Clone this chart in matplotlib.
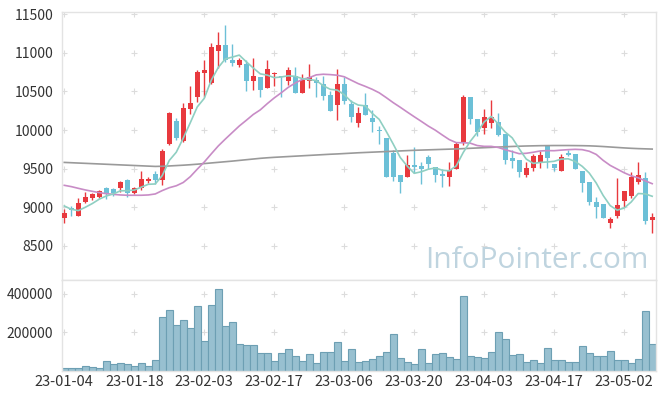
import numpy as np
import pandas as pd
import matplotlib
matplotlib.use("Agg")
import matplotlib.pyplot as plt

# ---------------- data ----------------
tick_labels = ["23-01-04", "23-01-18", "23-02-03", "23-02-17", "23-03-06",
               "23-03-20", "23-04-03", "23-04-17", "23-05-02"]

opens = [8855, 8990, 8890, 9072, 9124, 9128, 9244, 9231, 9245, 9352,
         9180, 9245, 9339, 9430, 9352, 9815, 10117, 9862, 10275, 10432,
         10744, 10605, 11029, 11104, 10908, 10838, 10856, 10640, 10688, 10551,
         10730, 10691, 10640, 10700, 10484, 10640, 10644, 10597, 10454, 10324,
         10597, 10337, 10095, 10324, 10160, 10000, 9901, 9706, 9417, 9391,
         9547, 9534, 9650, 9515, 9435, 9396, 9490, 9840, 10428, 10141,
         10032, 10097, 10100, 9949, 9638, 9611, 9421, 9503, 9590, 9806,
         9560, 9473, 9702, 9689, 9471, 9320, 9070, 9039, 8800, 8890,
         9085, 9149, 9320, 9374, 8834]
highs = [8972, 9020, 9115, 9201, 9185, 9223, 9266, 9244, 9342, 9360,
         9255, 9470, 9395, 9475, 9750, 10240, 10151, 10346, 10565, 10778,
         10908, 11128, 11275, 11361, 11117, 10930, 10908, 10929, 10692, 10908,
         10756, 10700, 10812, 10817, 10724, 10856, 10691, 10695, 10504, 10787,
         10692, 10389, 10294, 10476, 10255, 10055, 9901, 9741, 9417, 9672,
         9776, 9581, 9680, 9515, 9497, 9590, 9850, 10458, 10432, 10141,
         10270, 10385, 10216, 9949, 9740, 9611, 9583, 9690, 9732, 9806,
         9560, 9689, 9741, 9689, 9471, 9320, 9136, 9039, 8873, 9374,
         9210, 9460, 9590, 9460, 8920]
lows = [8799, 8880, 8886, 9052, 9095, 9115, 9102, 9145, 9201, 9132,
        9172, 9222, 9317, 9305, 9288, 9806, 9871, 9850, 10205, 10368,
        10432, 10600, 10803, 10886, 10830, 10821, 10500, 10519, 10424, 10549,
        10571, 10424, 10583, 10484, 10484, 10540, 10424, 10389, 10249, 10125,
        10337, 10108, 10035, 10195, 9968, 9816, 9395, 9344, 9180, 9387,
        9447, 9300, 9497, 9320, 9260, 9270, 9490, 9810, 10078, 9923,
        9953, 10022, 9920, 9564, 9508, 9387, 9391, 9465, 9503, 9503,
        9467, 9473, 9663, 9495, 9192, 9028, 8855, 8855, 8726, 8855,
        9007, 9115, 9296, 8786, 8665]
closes = [8921, 8965, 9050, 9128, 9168, 9207, 9171, 9180, 9330, 9180,
          9245, 9361, 9365, 9352, 9728, 10222, 9895, 10281, 10346, 10756,
          10778, 11072, 11104, 10903, 10873, 10907, 10640, 10700, 10523, 10791,
          10743, 10683, 10778, 10484, 10648, 10683, 10616, 10445, 10249, 10597,
          10381, 10173, 10220, 10197, 10108, 9992, 9395, 9395, 9331, 9547,
          9525, 9495, 9558, 9417, 9400, 9482, 9819, 10424, 10139, 9979,
          10169, 10169, 9940, 9612, 9603, 9460, 9503, 9659, 9674, 9633,
          9503, 9646, 9678, 9501, 9318, 9071, 8998, 8864, 8847, 9024,
          9210, 9387, 9415, 8824, 8869]
volumes = [14000, 14000, 14000, 26000, 21000, 14000, 50000, 35000, 40000, 35000,
           24000, 40000, 26000, 56000, 280000, 316000, 238000, 264000, 223000, 337000,
           155000, 343000, 426000, 233000, 254000, 139000, 134000, 134000, 92000, 92000,
           50000, 92000, 113000, 77000, 50000, 87000, 40000, 97000, 97000, 150000,
           52000, 110000, 47000, 52000, 63000, 78000, 99000, 191000, 68000, 47000,
           37000, 110000, 42000, 89000, 94000, 73000, 63000, 390000, 78000, 73000,
           68000, 99000, 202000, 167000, 83000, 89000, 47000, 57000, 40000, 120000,
           57000, 57000, 47000, 47000, 130000, 94000, 78000, 78000, 104000, 57000,
           57000, 42000, 63000, 308000, 141000]
# moving-average values before enough history is visible
ma5_head = [9015, 8972, 8955, 8998]
ma20_head = [9283, 9266, 9244, 9223, 9205, 9188, 9175, 9166, 9158, 9154,
             9154, 9154, 9158, 9171, 9215, 9252, 9277, 9320, 9395]
ma120 = [9580, 9576, 9572, 9568, 9564, 9560, 9556, 9552, 9548, 9544,
         9540, 9536, 9532, 9528, 9530, 9534, 9539, 9544, 9550, 9557,
         9565, 9573, 9581, 9589, 9597, 9606, 9615, 9624, 9633, 9640,
         9646, 9651, 9656, 9661, 9666, 9671, 9676, 9681, 9686, 9690,
         9695, 9700, 9705, 9709, 9713, 9717, 9721, 9725, 9729, 9733,
         9737, 9740, 9743, 9746, 9749, 9752, 9755, 9759, 9763, 9767,
         9771, 9775, 9779, 9783, 9787, 9790, 9793, 9795, 9797, 9798,
         9799, 9799, 9799, 9798, 9797, 9795, 9791, 9786, 9780, 9774,
         9768, 9763, 9759, 9756, 9753]

# ---------------- derived ----------------
o = np.array(opens, float); h = np.array(highs, float)
l = np.array(lows, float); c = np.array(closes, float)
n = len(c)
x = np.arange(n)
cs = pd.Series(c)
ma5 = cs.rolling(5).mean().to_numpy()
ma5[:len(ma5_head)] = ma5_head
ma20 = cs.rolling(20).mean().to_numpy()
ma20[:len(ma20_head)] = ma20_head

UP = "#e8393e"
DOWN = "#6cc0d7"

plt.rcParams['font.family'] = ['Noto Sans CJK KR', 'DejaVu Sans']

fig = plt.figure(figsize=(6.65, 3.98), dpi=100)
ax = fig.add_axes([0.0928, 0.2965, 0.8932, 0.6726])
axv = fig.add_axes([0.0928, 0.0688, 0.8932, 0.2277], sharex=ax)

spine_c = "#e3e3e3"
for a in (ax, axv):
    for s in a.spines.values():
        s.set_color(spine_c)
        s.set_linewidth(1.0)

xt = np.arange(0, n, 10)
# grid crosses
yt = np.arange(8500, 11501, 500)
XX, YY = np.meshgrid(xt, yt)
ax.plot(XX.ravel(), YY.ravel(), ls='none', marker='+', ms=5, mew=0.8,
        color="#dcdcdc", zorder=0)
vt = [200000, 400000]
XX, YY = np.meshgrid(xt, vt)
axv.plot(XX.ravel(), YY.ravel(), ls='none', marker='+', ms=5, mew=0.8,
         color="#dcdcdc", zorder=0)

# candles
up = c >= o
cols = np.where(up, UP, DOWN)
ax.vlines(x, l, h, colors=cols, lw=1.0, zorder=2)
body_bot = np.minimum(o, c)
body_h = np.maximum(np.abs(c - o), 12)
ax.bar(x, body_h, bottom=body_bot, width=0.72, color=cols, lw=0, zorder=3)

# moving averages
ax.plot(x, ma120, color="#9a9a9a", lw=1.2, zorder=4)
ax.plot(x, ma20, color="#c88cc6", lw=1.2, zorder=4)
ax.plot(x, ma5, color="#8fcfc2", lw=1.2, zorder=4)

ax.set_ylim(8055, 11527)
ax.set_yticks(yt)
ax.set_yticklabels([str(v) for v in yt])
ax.tick_params(axis='y', length=0, pad=6, labelsize=10, colors="#333333")
ax.tick_params(axis='x', length=0, labelbottom=False)
ax.set_xlim(-0.37, 84.5)

ax.text(0.988, 0.045, "InfoPointer.com", transform=ax.transAxes,
        ha='right', va='baseline', fontsize=21.5, color="#bfd4df",
        family=['Open Sans', 'DejaVu Sans'], zorder=1)

# volume
axv.bar(x, volumes, width=1.0, color="#98c0d0", edgecolor="#6d9fb3",
        lw=0.8, zorder=2)
axv.set_ylim(0, 472000)
axv.set_yticks(vt)
axv.set_yticklabels([str(v) for v in vt])
axv.set_xticks(xt)
axv.set_xticklabels(tick_labels)
axv.tick_params(axis='both', length=0, labelsize=10.5, colors="#333333")
axv.tick_params(axis='y', pad=6, labelsize=10)
axv.tick_params(axis='x', pad=3)

fig.savefig("out.png", dpi=100)
